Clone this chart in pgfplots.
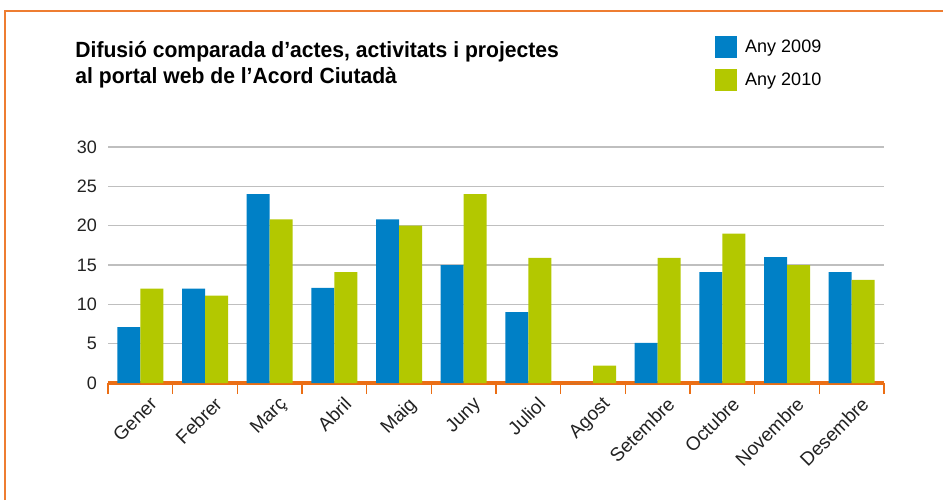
\documentclass[border=0pt]{standalone}
\usepackage{pgfplots}
\pgfplotsset{compat=1.18}
\usepackage{fontspec}
\setmainfont{Liberation Sans}
\newfontfamily\titlefont[FakeStretch=0.96]{Liberation Sans}
\definecolor{cblue}{HTML}{0080C6}
\definecolor{cgreen}{HTML}{B3C800}
\definecolor{corange}{HTML}{EE7D31}
\definecolor{caxis}{HTML}{EB6E14}
\definecolor{ctext}{HTML}{222222}
\begin{document}
\begin{tikzpicture}
\begin{scope}[x=0.5pt,y=0.5pt]
\path[use as bounding box] (0,0) rectangle (943,500);
\draw[corange, line width=0.8pt] (5,0) -- (5,489) -- (943,489);
\node[anchor=base west, inner sep=0pt, font=\titlefont\bfseries\fontsize{11}{13}\selectfont, text=black] at (75,443) {Difusió comparada d’actes, activitats i projectes};
\node[anchor=base west, inner sep=0pt, font=\titlefont\bfseries\fontsize{11}{13}\selectfont, text=black] at (75,417) {al portal web de l’Acord Ciutadà};
\end{scope}
\begin{axis}[
  at={(54pt,58.5pt)}, anchor=south west,
  scale only axis, width=388pt, height=118pt,
  ybar=0pt, bar width=11.5pt,
  xmin=-0.5, xmax=11.5, ymin=0, ymax=30,
  ytick={0,5,...,30},
  xtick={0,...,11},
  xticklabels={Gener,Febrer,Març,Abril,Maig,Juny,Juliol,Agost,Setembre,Octubre,Novembre,Desembre},
  minor xtick={-0.5,0.5,...,11.5},
  axis lines*=left,
  y axis line style={draw=none},
  x axis line style={caxis, line width=1.6pt},
  tick style={caxis, line width=0.8pt},
  major tick length=0pt,
  minor tick length=5.5pt,
  tick align=outside,
  ymajorgrids, grid style={gray!50, line width=0.6pt},
  /pgf/number format/assume math mode=true,
  yticklabel style={font=\fontsize{9}{10}\selectfont, text=ctext, xshift=-2pt},
  xticklabel style={font=\fontsize{9.5}{10}\selectfont, text=ctext, rotate=45, anchor=north east, xshift=2pt, yshift=-4pt},
  legend style={at={(0.782,1.47)}, anchor=north west, draw=none, fill=none, font=\fontsize{9}{11}\selectfont, row sep=5.5pt, inner sep=0pt, legend cell align=left, nodes={inner xsep=4pt, inner ysep=0pt}},
  clip=false,
]
\addplot[fill=cblue, draw=none, legend image code/.code={\fill[cblue] (0pt,-5.5pt) rectangle (11pt,5.5pt);}] coordinates {
(0,7.1) (1,12) (2,24) (3,12.1) (4,20.8) (5,15) (6,9) (7,0) (8,5.1) (9,14.1) (10,16) (11,14.1)};
\addplot[fill=cgreen, draw=none, legend image code/.code={\fill[cgreen] (0pt,-5.5pt) rectangle (11pt,5.5pt);}] coordinates {
(0,12) (1,11.1) (2,20.8) (3,14.1) (4,20) (5,24) (6,15.9) (7,2.2) (8,15.9) (9,19) (10,15) (11,13.1)};
\legend{Any 2009, Any 2010}
\end{axis}
\end{tikzpicture}
\end{document}
